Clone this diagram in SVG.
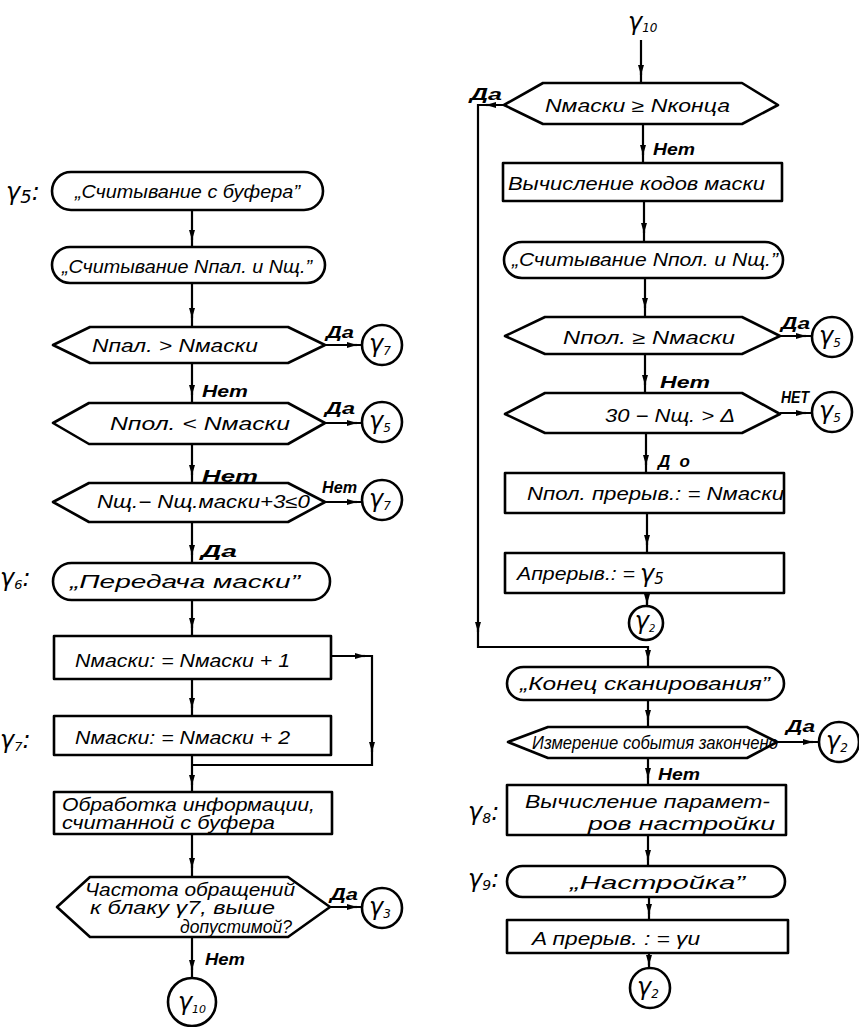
<svg xmlns="http://www.w3.org/2000/svg" width="859" height="1027" viewBox="0 0 859 1027">
<style>
.s{fill:none;stroke:#000;stroke-width:2.6;stroke-linejoin:round}
.c{fill:none;stroke:#000;stroke-width:2.2}
.t{font-family:"Liberation Sans","DejaVu Sans",sans-serif;font-style:italic;font-size:18px;fill:#000}
.l{font-family:"Liberation Sans","DejaVu Sans",sans-serif;font-style:italic;font-size:17px;fill:#000;font-weight:bold}
.g{font-family:"DejaVu Sans",sans-serif;font-style:italic;font-size:24px;fill:#000}
.m{text-anchor:middle}
</style>
<defs>
<marker id="a" viewBox="0 0 10 6" refX="10" refY="3" markerWidth="11" markerHeight="6" markerUnits="userSpaceOnUse" orient="auto"><path d="M0 0 L10 3 L0 6 z" fill="#000"/></marker>
</defs>
<g id="connectors" class="c">
<path d="M192 210 V247 M192 283 V327 M192 363 V403 M192 444 V483 M192 522 V563 M192 600 V636 M192 679 V716 M192 755 V792 M192 834 V877 M192 937 V978"/>
<path d="M331 656 H372 V765 H192"/>
<path d="M325 345 H362 M325 423 H362 M325 502 H362 M330 907 H362"/>
<path d="M641 40 V83 M643 124 V163 M644 201 V242 M645 278 V317 M645 354 V393 M646 433 V473 M647 513 V553 M647 593 V606"/>
<path d="M504 105 H478 V647 H648 V667"/>
<path d="M648 700 V727 M648 758 V785 M648 835 V866 M649 897 V920 M649 953 V968"/>
<path d="M780 336 H812 M780 413 H812 M777 742 H819"/>
<g id="arrows">
<path d="M192 231 L192 240" marker-end="url(#a)"/>
<path d="M192 309 L192 318" marker-end="url(#a)"/>
<path d="M192 386 L192 395" marker-end="url(#a)"/>
<path d="M192 466 L192 475" marker-end="url(#a)"/>
<path d="M192 546 L192 555" marker-end="url(#a)"/>
<path d="M192 619 L192 628" marker-end="url(#a)"/>
<path d="M192 699 L192 708" marker-end="url(#a)"/>
<path d="M192 776 L192 785" marker-end="url(#a)"/>
<path d="M192 859 L192 868" marker-end="url(#a)"/>
<path d="M192 961 L192 970" marker-end="url(#a)"/>
<path d="M356 656 L365 656" marker-end="url(#a)"/>
<path d="M372 743 L372 752" marker-end="url(#a)"/>
<path d="M348 345 L357 345" marker-end="url(#a)"/>
<path d="M348 423 L357 423" marker-end="url(#a)"/>
<path d="M348 502 L357 502" marker-end="url(#a)"/>
<path d="M348 907 L357 907" marker-end="url(#a)"/>
<path d="M641 66 L641 75" marker-end="url(#a)"/>
<path d="M643 146 L643 155" marker-end="url(#a)"/>
<path d="M644 224 L644 233" marker-end="url(#a)"/>
<path d="M645 299 L645 308" marker-end="url(#a)"/>
<path d="M645 376 L645 385" marker-end="url(#a)"/>
<path d="M646 456 L646 465" marker-end="url(#a)"/>
<path d="M647 536 L647 545" marker-end="url(#a)"/>
<path d="M647 595 L647 604" marker-end="url(#a)"/>
<path d="M495 105 L486 105" marker-end="url(#a)"/>
<path d="M478 623 L478 632" marker-end="url(#a)"/>
<path d="M648 651 L648 660" marker-end="url(#a)"/>
<path d="M648 711 L648 720" marker-end="url(#a)"/>
<path d="M648 769 L648 778" marker-end="url(#a)"/>
<path d="M648 851 L648 860" marker-end="url(#a)"/>
<path d="M649 905 L649 914" marker-end="url(#a)"/>
<path d="M649 956 L649 965" marker-end="url(#a)"/>
<path d="M797 336 L806 336" marker-end="url(#a)"/>
<path d="M797 413 L806 413" marker-end="url(#a)"/>
<path d="M804 742 L813 742" marker-end="url(#a)"/>
</g>
</g>
<g id="labels">
<text class="l" x="326" y="338" textLength="28" lengthAdjust="spacingAndGlyphs">Да</text>
<text class="l" x="202" y="397" textLength="46" lengthAdjust="spacingAndGlyphs" font-size="19">Нет</text>
<text class="l" x="325" y="414" textLength="30" lengthAdjust="spacingAndGlyphs">Да</text>
<text class="l" x="202" y="482" textLength="56" lengthAdjust="spacingAndGlyphs" font-size="21">Нет</text>
<text class="l" x="322" y="493" textLength="35" lengthAdjust="spacingAndGlyphs">Нет</text>
<text class="l" x="201" y="557" textLength="36" lengthAdjust="spacingAndGlyphs">Да</text>
<text class="l" x="330" y="900" textLength="28" lengthAdjust="spacingAndGlyphs">Да</text>
<text class="l" x="205" y="965" textLength="40" lengthAdjust="spacingAndGlyphs">Нет</text>
<text class="l" x="470" y="100" textLength="32" lengthAdjust="spacingAndGlyphs">Да</text>
<text class="l" x="653" y="155" textLength="42" lengthAdjust="spacingAndGlyphs">Нет</text>
<text class="l" x="781" y="329" textLength="29" lengthAdjust="spacingAndGlyphs">Да</text>
<text class="l" x="660" y="388" textLength="50" lengthAdjust="spacingAndGlyphs" font-size="20">Нет</text>
<text class="l" x="781" y="403" textLength="28" lengthAdjust="spacingAndGlyphs" font-size="12">НЕТ</text>
<text class="l" x="658" y="467" textLength="32" lengthAdjust="spacing">До</text>
<text class="l" x="786" y="732" textLength="29" lengthAdjust="spacingAndGlyphs">Да</text>
<text class="l" x="658" y="780" textLength="42" lengthAdjust="spacingAndGlyphs">Нет</text>
</g>
<g id="n_g5">
<text class="g" x="6" y="200">γ<tspan font-size="18" dy="3">5</tspan><tspan dy="-3">:</tspan></text>
<rect class="s" x="52" y="172" width="271" height="38" rx="19"/>
<text class="t" x="75" y="198" textLength="225" lengthAdjust="spacingAndGlyphs">„Считывание с буфера”</text>
</g>
<g id="n_read1">
<rect class="s" x="52" y="247" width="273" height="36" rx="18"/>
<text class="t" x="62" y="273" textLength="250" lengthAdjust="spacingAndGlyphs">„Считывание Nпал. и Nщ.”</text>
</g>
<g id="n_d1">
<path class="s" d="M53 345 L90 327 L288 327 L325 345 L288 363 L90 363 Z"/>
<text class="t" x="92" y="352" textLength="166" lengthAdjust="spacingAndGlyphs">Nпал. &gt; Nмаски</text>
</g>
<g id="n_c1">
<circle class="s" cx="382" cy="345" r="20"/>
<text class="g m" x="380" y="352" font-size="21">γ<tspan font-size="12" dy="3">7</tspan></text>
</g>
<g id="n_d2">
<path class="s" d="M53 423 L89 403 L288 403 L325 423 L288 444 L89 444 Z"/>
<text class="t" x="110" y="430" textLength="180" lengthAdjust="spacingAndGlyphs">Nпол. &lt; Nмаски</text>
</g>
<g id="n_c2">
<circle class="s" cx="382" cy="422" r="20"/>
<text class="g m" x="380" y="429" font-size="21">γ<tspan font-size="12" dy="3">5</tspan></text>
</g>
<g id="n_d3">
<path class="s" d="M53 502 L89 483 L288 483 L325 502 L288 522 L89 522 Z"/>
<text class="t" x="97" y="508" textLength="213" lengthAdjust="spacingAndGlyphs">Nщ.− Nщ.маски+3≤0</text>
</g>
<g id="n_c3">
<circle class="s" cx="382" cy="500" r="20"/>
<text class="g m" x="380" y="507" font-size="21">γ<tspan font-size="12" dy="3">7</tspan></text>
</g>
<g id="n_g6">
<text class="g" x="0" y="586" font-size="20">γ<tspan font-size="13" dy="3">6</tspan><tspan dy="-3">:</tspan></text>
<rect class="s" x="53" y="563" width="277" height="37" rx="18.5"/>
<text class="t" x="70" y="588" textLength="230" lengthAdjust="spacingAndGlyphs" font-size="21">„Передача маски”</text>
</g>
<g id="n_inc1">
<rect class="s" x="54" y="636" width="277" height="43"/>
<text class="t" x="75" y="667" textLength="215" lengthAdjust="spacingAndGlyphs" font-size="20">Nмаски: = Nмаски + 1</text>
</g>
<g id="n_g7">
<text class="g" x="0" y="748" font-size="20">γ<tspan font-size="13" dy="3">7</tspan><tspan dy="-3">:</tspan></text>
<rect class="s" x="54" y="716" width="277" height="39"/>
<text class="t" x="75" y="744" textLength="215" lengthAdjust="spacingAndGlyphs" font-size="20">Nмаски: = Nмаски + 2</text>
</g>
<g id="n_proc">
<rect class="s" x="54" y="792" width="278" height="42"/>
<text class="t" x="62" y="811" textLength="253" lengthAdjust="spacingAndGlyphs">Обработка информации,</text>
<text class="t" x="62" y="829" textLength="213" lengthAdjust="spacingAndGlyphs">считанной с буфера</text>
</g>
<g id="n_d4">
<path class="s" d="M57 907 L90 877 L288 877 L330 907 L288 937 L90 937 Z"/>
<text class="t" x="85" y="896" textLength="210" lengthAdjust="spacingAndGlyphs" font-size="16">Частота обращений</text>
<text class="t" x="90" y="914" textLength="185" lengthAdjust="spacingAndGlyphs" font-size="15">к блаку γ7, выше</text>
<text class="t" x="180" y="933" textLength="112" lengthAdjust="spacingAndGlyphs" font-size="13">допустимой?</text>
</g>
<g id="n_c4">
<circle class="s" cx="382" cy="908" r="20"/>
<text class="g m" x="380" y="915" font-size="21">γ<tspan font-size="12" dy="3">3</tspan></text>
</g>
<g id="n_c5">
<circle class="s" cx="192" cy="1002" r="24"/>
<text class="g m" x="192" y="1010" font-size="22">γ<tspan font-size="11" dy="3">10</tspan></text>
</g>
<g id="n_g10">
<text class="g" x="628" y="30" font-size="24">γ<tspan font-size="12" dy="2">10</tspan></text>
</g>
<g id="n_rd1">
<path class="s" d="M504 105 L543 83 L742 83 L778 105 L742 124 L543 124 Z"/>
<text class="t" x="545" y="112" textLength="185" lengthAdjust="spacingAndGlyphs">Nмаски ≥ Nконца</text>
</g>
<g id="n_codes">
<rect class="s" x="503" y="163" width="279" height="38"/>
<text class="t" x="508" y="190" textLength="257" lengthAdjust="spacingAndGlyphs" font-size="19">Вычисление кодов маски</text>
</g>
<g id="n_read2">
<rect class="s" x="504" y="242" width="279" height="36" rx="18"/>
<text class="t" x="512" y="266" textLength="266" lengthAdjust="spacingAndGlyphs" font-size="19">„Считывание Nпол. и Nщ.”</text>
</g>
<g id="n_rd2">
<path class="s" d="M505 336 L545 317 L742 317 L780 336 L742 354 L545 354 Z"/>
<text class="t" x="563" y="344" textLength="172" lengthAdjust="spacingAndGlyphs">Nпол. ≥ Nмаски</text>
</g>
<g id="n_rc1">
<circle class="s" cx="832" cy="337" r="20"/>
<text class="g m" x="830" y="344" font-size="21">γ<tspan font-size="12" dy="3">5</tspan></text>
</g>
<g id="n_rd3">
<path class="s" d="M505 414 L545 393 L742 393 L780 414 L742 433 L545 433 Z"/>
<text class="t" x="605" y="422" textLength="130" lengthAdjust="spacingAndGlyphs" font-size="20">30 − Nщ. &gt; Δ</text>
</g>
<g id="n_rc2">
<circle class="s" cx="832" cy="412" r="20"/>
<text class="g m" x="830" y="419" font-size="21">γ<tspan font-size="12" dy="3">5</tspan></text>
</g>
<g id="n_npol">
<rect class="s" x="505" y="473" width="279" height="40"/>
<text class="t" x="527" y="500" textLength="257" lengthAdjust="spacingAndGlyphs" font-size="20">Nпол. прерыв.: = Nмаски</text>
</g>
<g id="n_apr1">
<rect class="s" x="505" y="553" width="279" height="40"/>
<text class="t" x="517" y="580" textLength="118" lengthAdjust="spacingAndGlyphs" font-size="20">Aпрерыв.: =</text>
<text class="g" x="640" y="582" font-size="22">γ<tspan font-size="15" dy="2">5</tspan></text>
</g>
<g id="n_rc3">
<circle class="s" cx="646" cy="623" r="17"/>
<text class="g m" x="645" y="629" font-size="18">γ<tspan font-size="10" dy="3">2</tspan></text>
</g>
<g id="n_end">
<rect class="s" x="507" y="667" width="277" height="33" rx="16.5"/>
<text class="t" x="520" y="690" textLength="250" lengthAdjust="spacingAndGlyphs" font-size="19">„Конец сканирования”</text>
</g>
<g id="n_rd4">
<path class="s" d="M508 742 L548 727 L747 727 L777 742 L747 758 L548 758 Z"/>
<text class="t" x="532" y="749" textLength="246" lengthAdjust="spacingAndGlyphs" font-size="19">Измерение события закончено</text>
</g>
<g id="n_rc4">
<circle class="s" cx="839" cy="742" r="20"/>
<text class="g m" x="837" y="749" font-size="21">γ<tspan font-size="12" dy="3">2</tspan></text>
</g>
<g id="n_g8">
<text class="g" x="468" y="820" font-size="22">γ<tspan font-size="14" dy="3">8</tspan><tspan dy="-3">:</tspan></text>
<rect class="s" x="507" y="785" width="279" height="50"/>
<text class="t" x="525" y="808" textLength="245" lengthAdjust="spacingAndGlyphs" font-size="19">Вычисление парамет-</text>
<text class="t" x="588" y="830" textLength="187" lengthAdjust="spacingAndGlyphs" font-size="19">ров настройки</text>
</g>
<g id="n_g9">
<text class="g" x="468" y="887" font-size="22">γ<tspan font-size="14" dy="3">9</tspan><tspan dy="-3">:</tspan></text>
<rect class="s" x="507" y="866" width="278" height="31" rx="15.5"/>
<text class="t" x="570" y="889" textLength="175" lengthAdjust="spacingAndGlyphs" font-size="21">„Настройка”</text>
</g>
<g id="n_apr2">
<rect class="s" x="507" y="920" width="281" height="33"/>
<text class="t" x="532" y="945" textLength="168" lengthAdjust="spacingAndGlyphs" font-size="19">A прерыв. : = γи</text>
</g>
<g id="n_rc5">
<circle class="s" cx="650" cy="988" r="20"/>
<text class="g m" x="648" y="995" font-size="21">γ<tspan font-size="12" dy="3">2</tspan></text>
</g>
</svg>
